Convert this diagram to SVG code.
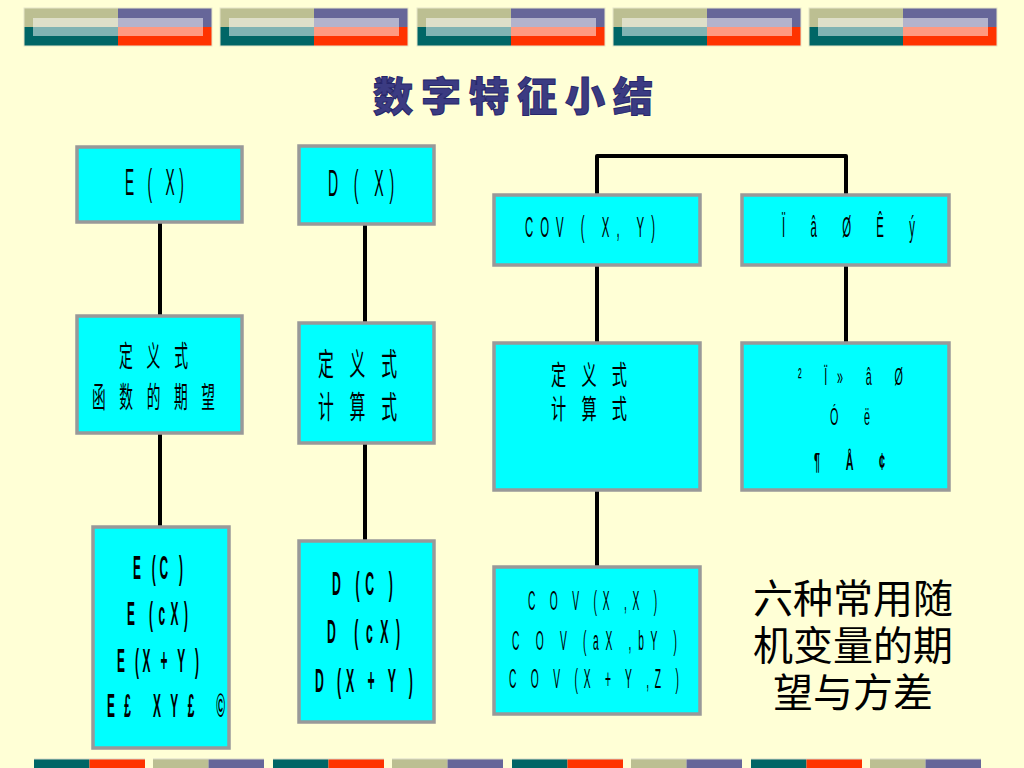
<svg xmlns="http://www.w3.org/2000/svg" xmlns:xlink="http://www.w3.org/1999/xlink" width="1024" height="768" viewBox="0 0 1024 768">
<style>
.box{fill:#00FFFF;stroke:#999999;stroke-width:3.5}
.conn{fill:none;stroke:#000;stroke-width:4;stroke-linejoin:round}
.lat{font-family:"Liberation Sans",Arial,sans-serif;fill:#000}
.bold{font-weight:bold}
.cjk{font-family:"Liberation Sans","Noto Sans CJK SC",sans-serif;fill:#000}
.big{font-family:"Noto Sans CJK SC",sans-serif;font-size:40px;fill:#000;text-anchor:middle}
.title{font-family:"Noto Sans CJK SC",sans-serif;font-size:40px;font-weight:900;fill:#3B3B82;stroke:#26266a;stroke-width:1;letter-spacing:8px;text-anchor:middle}
</style>
<defs>
<g id="topbar">
<rect x="0" y="0" width="94" height="19" fill="#BCBF92"/>
<rect x="94" y="0" width="94" height="19" fill="#666699"/>
<rect x="0" y="19" width="94" height="19" fill="#006666"/>
<rect x="94" y="19" width="94" height="19" fill="#FF3300"/>
<rect x="9" y="10" width="170" height="18" fill="#FFFFFF" fill-opacity="0.5"/>
<rect x="0" y="0" width="188" height="38" fill="none" stroke="#E6E6C8" stroke-width="1"/>
</g>
<g id="botA">
<rect x="0" y="0" width="55.5" height="12" fill="#006666"/>
<rect x="55.5" y="0" width="55.5" height="12" fill="#FF3300"/>
<line x1="0" y1="0" x2="111" y2="0" stroke="#D8D8C8" stroke-width="1"/>
</g>
<g id="botB">
<rect x="0" y="0" width="55.5" height="12" fill="#BCBF92"/>
<rect x="55.5" y="0" width="55.5" height="12" fill="#666699"/>
<line x1="0" y1="0" x2="111" y2="0" stroke="#D8D8C8" stroke-width="1"/>
</g>
</defs>
<rect x="0" y="0" width="1024" height="768" fill="#FFFFD6"/>
<g id="decor">
<use xlink:href="#topbar" x="24" y="8"/>
<use xlink:href="#topbar" x="220" y="8"/>
<use xlink:href="#topbar" x="417" y="8"/>
<use xlink:href="#topbar" x="613" y="8"/>
<use xlink:href="#topbar" x="809" y="8"/>
<use xlink:href="#botA" x="34" y="759"/>
<use xlink:href="#botB" x="153" y="759"/>
<use xlink:href="#botA" x="273" y="759"/>
<use xlink:href="#botB" x="392" y="759"/>
<use xlink:href="#botA" x="512" y="759"/>
<use xlink:href="#botB" x="631" y="759"/>
<use xlink:href="#botA" x="751" y="759"/>
<use xlink:href="#botB" x="870" y="759"/>
</g>
<g id="title"><text class="title" x="517" y="111">数字特征小结</text></g>
<g id="connectors">
<path class="conn" d="M160,223 V315 M160,434 V526"/>
<path class="conn" d="M365,225 V322 M365,444 V540"/>
<path class="conn" d="M597,194 V156 H846 V194"/>
<path class="conn" d="M597,266 V342 M597,491 V566"/>
<path class="conn" d="M846,266 V342"/>
</g>
<g id="n-ex">
<rect class="box" x="77" y="147" width="165" height="75"/>
<text class="lat" font-size="36" transform="translate(125,195) scale(0.38,1)" textLength="155" lengthAdjust="spacing">E ( X)</text>
</g>
<g id="n-dx">
<rect class="box" x="299" y="146" width="135" height="78"/>
<text class="lat" font-size="37" transform="translate(328,196) scale(0.38,1)" textLength="174" lengthAdjust="spacing">D ( X)</text>
</g>
<g id="n-cov">
<rect class="box" x="494" y="195" width="206" height="70"/>
<text class="lat" font-size="30" transform="translate(525,237) scale(0.38,1)" textLength="342" lengthAdjust="spacing">COV ( X, Y)</text>
</g>
<g id="n-corr">
<rect class="box" x="742" y="195" width="207" height="70"/>
<text class="lat" font-size="30" transform="translate(782,237) scale(0.38,1)" textLength="350" lengthAdjust="spacing">Ï â Ø Ê ý</text>
</g>
<g id="n-e-def">
<rect class="box" x="77" y="316" width="165" height="117"/>
<text class="cjk" font-size="29" x="119" y="367" textLength="69" lengthAdjust="spacingAndGlyphs">定　义　式</text>
<text class="cjk" font-size="29" x="92" y="408" textLength="123" lengthAdjust="spacingAndGlyphs">函　数　的　期　望</text>
</g>
<g id="n-d-def">
<rect class="box" x="299" y="323" width="135" height="120"/>
<text class="cjk" font-size="31" x="318" y="375" textLength="79" lengthAdjust="spacingAndGlyphs">定　义　式</text>
<text class="cjk" font-size="31" x="318" y="418" textLength="79" lengthAdjust="spacingAndGlyphs">计　算　式</text>
</g>
<g id="n-cov-def">
<rect class="box" x="494" y="343" width="206" height="147"/>
<text class="cjk" font-size="27" x="551" y="385" textLength="76" lengthAdjust="spacingAndGlyphs">定　义　式</text>
<text class="cjk" font-size="27" x="551" y="419" textLength="76" lengthAdjust="spacingAndGlyphs">计　算　式</text>
</g>
<g id="n-corr-def">
<rect class="box" x="742" y="343" width="207" height="147"/>
<text class="lat" font-size="24" transform="translate(798,385) scale(0.45,1)" textLength="233" lengthAdjust="spacing">² Ï» â Ø</text>
<text class="lat" font-size="24" transform="translate(830,425) scale(0.45,1)" textLength="89" lengthAdjust="spacing">Ó  ë</text>
<text class="lat bold" font-size="24" transform="translate(814,470) scale(0.45,1)" textLength="158" lengthAdjust="spacing">¶  Å  ¢</text>
</g>
<g id="n-e-prop">
<rect class="box" x="93" y="527" width="136" height="221"/>
<text class="lat bold" font-size="33" transform="translate(133,579) scale(0.36,1)" textLength="139" lengthAdjust="spacing">E (C )</text>
<text class="lat bold" font-size="33" transform="translate(127,625) scale(0.36,1)" textLength="169" lengthAdjust="spacing">E (cX)</text>
<text class="lat bold" font-size="33" transform="translate(117,672) scale(0.36,1)" textLength="228" lengthAdjust="spacing">E (X + Y )</text>
<text class="lat bold" font-size="33" transform="translate(107,717) scale(0.36,1)" textLength="328" lengthAdjust="spacing">E£  XY£  ©</text>
</g>
<g id="n-d-prop">
<rect class="box" x="299" y="541" width="135" height="181"/>
<text class="lat bold" font-size="34" transform="translate(332,595) scale(0.36,1)" textLength="169" lengthAdjust="spacing">D (C )</text>
<text class="lat bold" font-size="34" transform="translate(327,643) scale(0.36,1)" textLength="203" lengthAdjust="spacing">D (cX)</text>
<text class="lat bold" font-size="34" transform="translate(315,692) scale(0.36,1)" textLength="272" lengthAdjust="spacing">D (X + Y )</text>
</g>
<g id="n-cov-prop">
<rect class="box" x="494" y="567" width="206" height="147"/>
<text class="lat" font-size="27" transform="translate(528,610) scale(0.38,1)" textLength="340" lengthAdjust="spacing">C O V (X ,X )</text>
<text class="lat" font-size="27" transform="translate(512,650) scale(0.38,1)" textLength="434" lengthAdjust="spacing">C O V (aX ,bY )</text>
<text class="lat" font-size="27" transform="translate(509,688) scale(0.38,1)" textLength="447" lengthAdjust="spacing">C O V (X + Y ,Z )</text>
</g>
<g id="caption">
<text class="big" x="853" y="613">六种常用随</text>
<text class="big" x="853" y="660">机变量的期</text>
<text class="big" x="853" y="707">望与方差</text>
</g>
</svg>
